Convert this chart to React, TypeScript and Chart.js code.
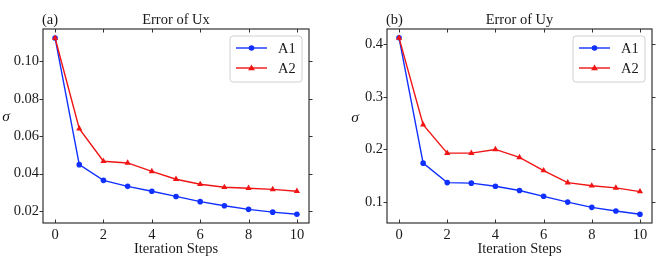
import React, { useEffect, useRef } from "react";
import { Chart, registerables } from "chart.js";

Chart.register(...registerables);

// ---------- data ----------
const steps = [0, 1, 2, 3, 4, 5, 6, 7, 8, 9, 10];
const uxA1 = [0.1125, 0.0448, 0.0364, 0.0332, 0.0306, 0.0278, 0.025, 0.0228, 0.0209, 0.0194, 0.0183];
const uxA2 = [0.1125, 0.064, 0.0466, 0.0457, 0.0412, 0.037, 0.0343, 0.0327, 0.0322, 0.0316, 0.0306];
const uyA1 = [0.412, 0.174, 0.137, 0.136, 0.13, 0.122, 0.111, 0.1, 0.09, 0.083, 0.077];
const uyA2 = [0.412, 0.247, 0.193, 0.193, 0.2, 0.185, 0.16, 0.137, 0.131, 0.127, 0.12];
const seriesLabels = ["A1", "A2"];
const xTicks = [0, 2, 4, 6, 8, 10];
const uxYTicks = [0.02, 0.04, 0.06, 0.08, 0.1];
const uyYTicks = [0.1, 0.2, 0.3, 0.4];
const titles = ["Error of Ux", "Error of Uy"];
const panelTags = ["(a)", "(b)"];
const xTitle = "Iteration Steps";
const yTitle = "σ";
const xRange = [-0.5, 10.5];
const uxRange = [0.0136, 0.1173];
const uyRange = [0.0603, 0.4288];

const FONT = "'Liberation Serif', 'Times New Roman', serif";
const FS = 14.5;
const TEXT = "#1a1a1a";
const FRAME = "#333333";
const BLUE = "#1030ff";
const RED = "#f01414";

type PanelProps = {
  a1: number[];
  a2: number[];
  yTicks: number[];
  yRange: number[];
  decimals: number;
  title: string;
  tag: string;
  yAxisWidth: number;
  padRight: number;
  sigmaX: number;
  sigmaY: number;
};

const decorPlugin = (p: PanelProps) => ({
  id: "decor",
  afterDraw(chart: any) {
    const ctx = chart.ctx as CanvasRenderingContext2D;
    const a = chart.chartArea;
    const xs = chart.scales.x;
    const ys = chart.scales.y;
    ctx.save();
    // frame
    ctx.strokeStyle = FRAME;
    ctx.lineWidth = 1.2;
    ctx.strokeRect(a.left, a.top, a.right - a.left, a.bottom - a.top);
    // x ticks point inward (top & bottom), y ticks point outward (left & right)
    const tl = 3.5;
    ctx.lineWidth = 1;
    ctx.beginPath();
    xs.ticks.forEach((t: any) => {
      const px = Math.round(xs.getPixelForValue(t.value)) + 0.5;
      ctx.moveTo(px, a.bottom);
      ctx.lineTo(px, a.bottom - tl);
      ctx.moveTo(px, a.top);
      ctx.lineTo(px, a.top + tl);
    });
    ys.ticks.forEach((t: any) => {
      const py = Math.round(ys.getPixelForValue(t.value)) + 0.5;
      ctx.moveTo(a.left, py);
      ctx.lineTo(a.left - tl, py);
      ctx.moveTo(a.right, py);
      ctx.lineTo(a.right + tl, py);
    });
    ctx.stroke();
    // panel tag
    ctx.fillStyle = TEXT;
    ctx.font = `${FS}px ${FONT}`;
    ctx.textBaseline = "middle";
    ctx.textAlign = "left";
    ctx.fillText(p.tag, a.left - 1, 20);
    // y label
    ctx.font = `italic ${FS + 1}px ${FONT}`;
    ctx.textAlign = "center";
    ctx.fillText(yTitle, p.sigmaX, p.sigmaY);
    // legend
    const bw = 72;
    const bh = 46;
    const bx = a.right - 7 - bw;
    const by = a.top + 7;
    ctx.fillStyle = "rgba(255,255,255,0.85)";
    ctx.strokeStyle = "#d0d0d0";
    ctx.lineWidth = 1;
    ctx.beginPath();
    const r = 3;
    ctx.moveTo(bx + r, by);
    ctx.arcTo(bx + bw, by, bx + bw, by + bh, r);
    ctx.arcTo(bx + bw, by + bh, bx, by + bh, r);
    ctx.arcTo(bx, by + bh, bx, by, r);
    ctx.arcTo(bx, by, bx + bw, by, r);
    ctx.closePath();
    ctx.fill();
    ctx.stroke();
    chart.data.datasets.forEach((ds: any, i: number) => {
      const ry = by + 12 + i * 20;
      ctx.strokeStyle = ds.borderColor;
      ctx.lineWidth = ds.borderWidth;
      ctx.beginPath();
      ctx.moveTo(bx + 6, ry);
      ctx.lineTo(bx + 37, ry);
      ctx.stroke();
      ctx.fillStyle = ds.borderColor;
      const cx = bx + 21.5;
      ctx.beginPath();
      if (ds.pointStyle === "triangle") {
        const s = ds.pointRadius;
        ctx.moveTo(cx, ry - s);
        ctx.lineTo(cx + s * 0.95, ry + s * 0.6);
        ctx.lineTo(cx - s * 0.95, ry + s * 0.6);
        ctx.closePath();
      } else {
        ctx.arc(cx, ry, ds.pointRadius, 0, Math.PI * 2);
      }
      ctx.fill();
      ctx.fillStyle = TEXT;
      ctx.font = `${FS}px ${FONT}`;
      ctx.textAlign = "left";
      ctx.textBaseline = "middle";
      ctx.fillText(ds.label, bx + 48, ry + 1);
    });
    ctx.restore();
  },
});

function Panel(p: PanelProps) {
  const ref = useRef<HTMLCanvasElement | null>(null);
  useEffect(() => {
    if (!ref.current) return;
    const chart = new Chart(ref.current, {
      type: "line",
      data: {
        datasets: [
          {
            label: seriesLabels[0],
            data: steps.map((s, i) => ({ x: s, y: p.a1[i] })),
            borderColor: BLUE,
            backgroundColor: BLUE,
            borderWidth: 1.4,
            pointStyle: "circle",
            pointRadius: 2.8,
            pointBorderWidth: 0,
            order: 1,
          },
          {
            label: seriesLabels[1],
            data: steps.map((s, i) => ({ x: s, y: p.a2[i] })),
            borderColor: RED,
            backgroundColor: RED,
            borderWidth: 1.4,
            pointStyle: "triangle",
            pointRadius: 3.6,
            pointBorderWidth: 0,
            order: 0,
          },
        ],
      },
      options: {
        animation: false,
        responsive: false,
        events: [],
        layout: { padding: { left: 0, right: p.padRight, top: 0, bottom: 0 } },
        plugins: {
          legend: { display: false },
          tooltip: { enabled: false },
          title: {
            display: true,
            text: p.title,
            fullSize: false,
            color: TEXT,
            font: { family: FONT, size: FS, weight: "normal" },
            padding: { top: 11.3, bottom: 0.3 },
          },
        },
        scales: {
          x: {
            type: "linear",
            min: xRange[0],
            max: xRange[1],
            grid: { display: false, drawTicks: false },
            border: { display: false },
            afterBuildTicks: (s: any) => {
              s.ticks = xTicks.map((v) => ({ value: v }));
            },
            afterFit: (s: any) => {
              s.height = 49;
            },
            ticks: {
              color: TEXT,
              font: { family: FONT, size: FS },
              padding: 3,
              maxRotation: 0,
              callback: (v: any) => String(v),
            },
            title: {
              display: true,
              text: xTitle,
              color: TEXT,
              font: { family: FONT, size: FS },
              padding: { top: 0, bottom: 14.3 },
            },
          },
          y: {
            type: "linear",
            min: p.yRange[0],
            max: p.yRange[1],
            grid: { display: false, drawTicks: false },
            border: { display: false },
            afterBuildTicks: (s: any) => {
              s.ticks = p.yTicks.map((v) => ({ value: v }));
            },
            afterFit: (s: any) => {
              s.width = p.yAxisWidth;
            },
            ticks: {
              color: TEXT,
              font: { family: FONT, size: FS },
              padding: 4,
              callback: (v: any) => Number(v).toFixed(p.decimals),
            },
          },
        },
      },
      plugins: [decorPlugin(p)],
    } as any);
    return () => chart.destroy();
  }, []);
  return <canvas ref={ref} width={332} height={272} style={{ display: "block", width: 332, height: 272 }} />;
}

export default function App() {
  return (
    <div style={{ position: "absolute", left: 0, top: 0, width: 664, height: 272, background: "#fff", display: "flex" }}>
      <Panel
        a1={uxA1}
        a2={uxA2}
        yTicks={uxYTicks}
        yRange={uxRange}
        decimals={2}
        title={titles[0]}
        tag={panelTags[0]}
        yAxisWidth={43}
        padRight={23}
        sigmaX={6}
        sigmaY={117}
      />
      <Panel
        a1={uyA1}
        a2={uyA2}
        yTicks={uyYTicks}
        yRange={uyRange}
        decimals={1}
        title={titles[1]}
        tag={panelTags[1]}
        yAxisWidth={55}
        padRight={12}
        sigmaX={23}
        sigmaY={118}
      />
    </div>
  );
}
